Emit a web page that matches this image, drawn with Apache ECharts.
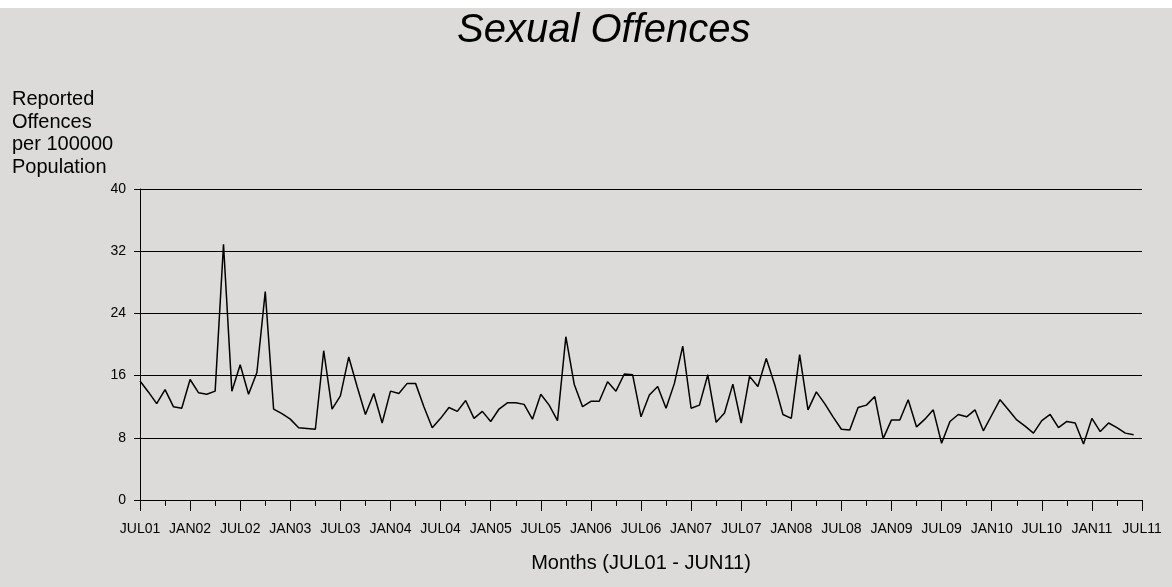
<!DOCTYPE html>
<html>
<head>
<meta charset="utf-8">
<script src="https://cdn.jsdelivr.net/npm/echarts@6/dist/echarts.min.js"></script>
<style>
html,body{margin:0;padding:0;background:#fff;}
#chart{width:1172px;height:587px;}
</style>
</head>
<body>
<div id="chart"></div>
<script>
// Monthly values JUL01 .. JUN11 (120 months)
const offenceRates = [
  15.3, 13.9, 12.4, 14.2, 12.0, 11.8, 15.5, 13.8, 13.6, 14.0, 32.9, 14.0,
  17.4, 13.6, 16.4, 26.8, 11.7, 11.1, 10.4, 9.3, 9.2, 9.1, 19.2, 11.7,
  13.4, 18.4, 14.6, 11.0, 13.7, 9.9, 14.0, 13.7, 15.0, 15.0, 12.0, 9.3,
  10.5, 11.9, 11.4, 12.8, 10.5, 11.4, 10.1, 11.7, 12.5, 12.5, 12.3, 10.4,
  13.6, 12.2, 10.2, 21.0, 14.9, 12.0, 12.7, 12.7, 15.2, 14.0, 16.2, 16.1,
  10.7, 13.5, 14.6, 11.8, 15.0, 19.8, 11.8, 12.2, 16.1, 10.0, 11.2, 14.9,
  9.9, 15.9, 14.6, 18.2, 14.9, 11.0, 10.5, 18.7, 11.6, 13.9, 12.4, 10.7,
  9.1, 9.0, 11.9, 12.2, 13.3, 7.9, 10.3, 10.3, 12.9, 9.4, 10.4, 11.6,
  7.3, 10.1, 11.0, 10.7, 11.6, 8.9, 10.9, 12.9, 11.6, 10.3, 9.5, 8.6,
  10.2, 11.0, 9.3, 10.1, 9.9, 7.2, 10.5, 8.8, 9.9, 9.3, 8.6, 8.4
];
const xTickLabels = ['JUL01','JAN02','JUL02','JAN03','JUL03','JAN04','JUL04','JAN05','JUL05','JAN06',
  'JUL06','JAN07','JUL07','JAN08','JUL08','JAN09','JUL09','JAN10','JUL10','JAN11','JUL11'];
const yTickValues = [0, 8, 16, 24, 32, 40];
const titleText = 'Sexual Offences';
const yAxisTitle = 'Reported\nOffences\nper 100000\nPopulation';
const xAxisTitle = 'Months (JUL01 - JUN11)';

const FONT = '"Liberation Sans", Arial, sans-serif';
const chart = echarts.init(document.getElementById('chart'), null, {renderer: 'canvas'});
const seriesData = offenceRates.map((v, i) => [i, v]);
const monthsPerLabel = 6;

chart.setOption({
  animation: false,
  backgroundColor: '#ffffff',
  graphic: [
    {type: 'rect', left: 0, top: 8, z: -10, silent: true,
     shape: {width: 1172, height: 579}, style: {fill: '#dcdbda'}},
    {type: 'text', left: 12, top: 88.5, silent: true,
     style: {text: yAxisTitle, font: '20px ' + FONT, fill: '#000', lineHeight: 22.5}}
  ],
  title: {
    text: titleText,
    left: 457, top: 11, padding: 0,
    textStyle: {fontSize: 40, fontStyle: 'italic', fontWeight: 'normal', fontFamily: FONT, color: '#000'}
  },
  grid: {left: 140, right: 30, top: 189, bottom: 87, containLabel: false},
  xAxis: {
    type: 'value', min: 0, max: (xTickLabels.length - 1) * monthsPerLabel, interval: monthsPerLabel,
    name: xAxisTitle, nameLocation: 'middle', nameGap: 53,
    nameTextStyle: {fontSize: 20, fontFamily: FONT, color: '#000'},
    axisLine: {show: true, onZero: false, lineStyle: {color: '#000', width: 1}},
    axisTick: {show: true, length: 11, inside: false, lineStyle: {color: '#000', width: 1}},
    minorTick: {show: true, splitNumber: 2, length: 6, lineStyle: {color: '#000', width: 1}},
    axisLabel: {margin: 22, fontSize: 14, fontFamily: FONT, color: '#000',
      formatter: v => xTickLabels[Math.round(v / monthsPerLabel)]},
    splitLine: {show: false}
  },
  yAxis: {
    type: 'value', min: yTickValues[0], max: yTickValues[yTickValues.length - 1],
    interval: yTickValues[1] - yTickValues[0],
    axisLine: {show: true, lineStyle: {color: '#000', width: 1}},
    axisTick: {show: true, length: 6, lineStyle: {color: '#000', width: 1}},
    axisLabel: {margin: 14, fontSize: 14, fontFamily: FONT, color: '#000'},
    splitLine: {show: true, lineStyle: {color: '#000', width: 1}}
  },
  series: [{
    type: 'line', data: seriesData, showSymbol: false, symbol: 'none',
    lineStyle: {color: '#000', width: 1.5}
  }]
});
</script>
</body>
</html>
